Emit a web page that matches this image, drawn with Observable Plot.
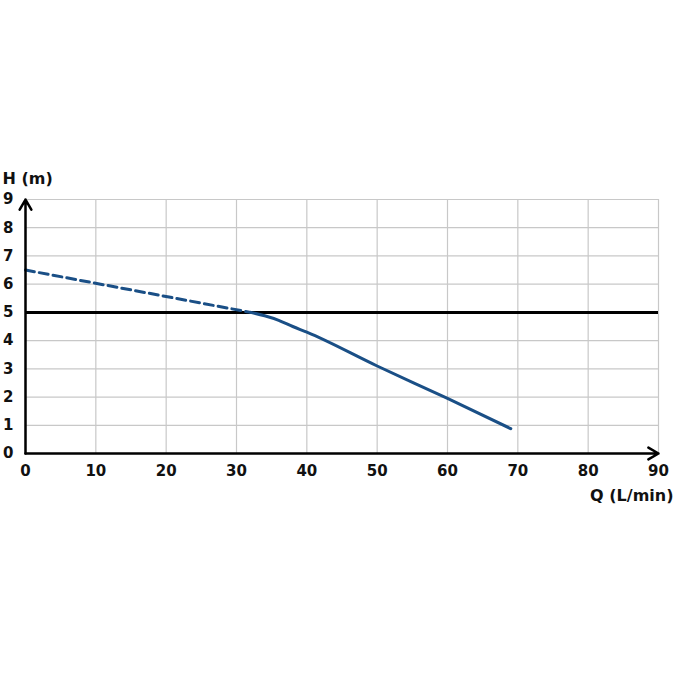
<!DOCTYPE html>
<html>
<head>
<meta charset="utf-8">
<script src="https://cdn.jsdelivr.net/npm/d3@7"></script>
<script src="https://cdn.jsdelivr.net/npm/@observablehq/plot@0.6"></script>
<style>
  html, body { margin: 0; padding: 0; background: #fff; }
  #chart { width: 675px; height: 675px; }
</style>
</head>
<body>
<div id="chart"></div>
<script>
const xTicks = [0, 10, 20, 30, 40, 50, 60, 70, 80, 90];
const yTicks = [0, 1, 2, 3, 4, 5, 6, 7, 8, 9];
const dashedQ = [0, 32];
const dashedH = [6.5, 5.0];
const solidQ = [32, 34, 36, 38, 40, 50, 60, 69];
const solidH = [5.0, 4.88, 4.72, 4.5, 4.3, 3.1, 1.95, 0.88];
const refH = 5;
const xLabel = "Q (L/min)";
const yLabel = "H (m)";

const dashed = dashedQ.map((q, i) => ({q, h: dashedH[i]}));
const solid = solidQ.map((q, i) => ({q, h: solidH[i]}));
const font = "'DejaVu Sans', sans-serif";

const chart = Plot.plot({
  width: 675,
  height: 675,
  marginLeft: 25,
  marginRight: 17,
  marginTop: 199,
  marginBottom: 222,
  style: {fontFamily: font, fontSize: "15px", fontWeight: "bold", color: "#111", background: "#fff"},
  x: {domain: [0, 90], ticks: xTicks},
  y: {domain: [0, 9], ticks: yTicks},
  marks: [
    Plot.gridX(xTicks, {stroke: "#c8c8c8", strokeOpacity: 1, strokeWidth: 1.2}),
    Plot.gridY(yTicks, {stroke: "#c8c8c8", strokeOpacity: 1, strokeWidth: 1.2}),
    Plot.axisX(xTicks, {tickSize: 0, tickPadding: 12, fontSize: 15, fontWeight: "bold", label: null}),
    Plot.axisY(yTicks, {tickSize: 0, tickPadding: 12, fontSize: 15, fontWeight: "bold", label: null}),
    Plot.ruleY([refH], {stroke: "#000", strokeWidth: 3}),
    Plot.line(dashed, {x: "q", y: "h", stroke: "#1a4f86", strokeWidth: 3, strokeDasharray: "9,5"}),
    Plot.line(solid, {x: "q", y: "h", stroke: "#1a4f86", strokeWidth: 3, curve: "monotone-x"}),
    Plot.arrow([{x1: 0, y1: 0, x2: 0, y2: 9}], {x1: "x1", y1: "y1", x2: "x2", y2: "y2", stroke: "#000", strokeWidth: 2.5, headLength: 7}),
    Plot.arrow([{x1: 0, y1: 0, x2: 90, y2: 0}], {x1: "x1", y1: "y1", x2: "x2", y2: "y2", stroke: "#000", strokeWidth: 2.5, headLength: 7}),
    Plot.text([yLabel], {frameAnchor: "top-left", dx: -23, dy: -27, textAnchor: "start", fontSize: 16, fontWeight: "bold"}),
    Plot.text([xLabel], {frameAnchor: "bottom-right", dx: 15, dy: 47, textAnchor: "end", fontSize: 16, fontWeight: "bold"})
  ]
});
document.getElementById("chart").appendChild(chart);
</script>
</body>
</html>
